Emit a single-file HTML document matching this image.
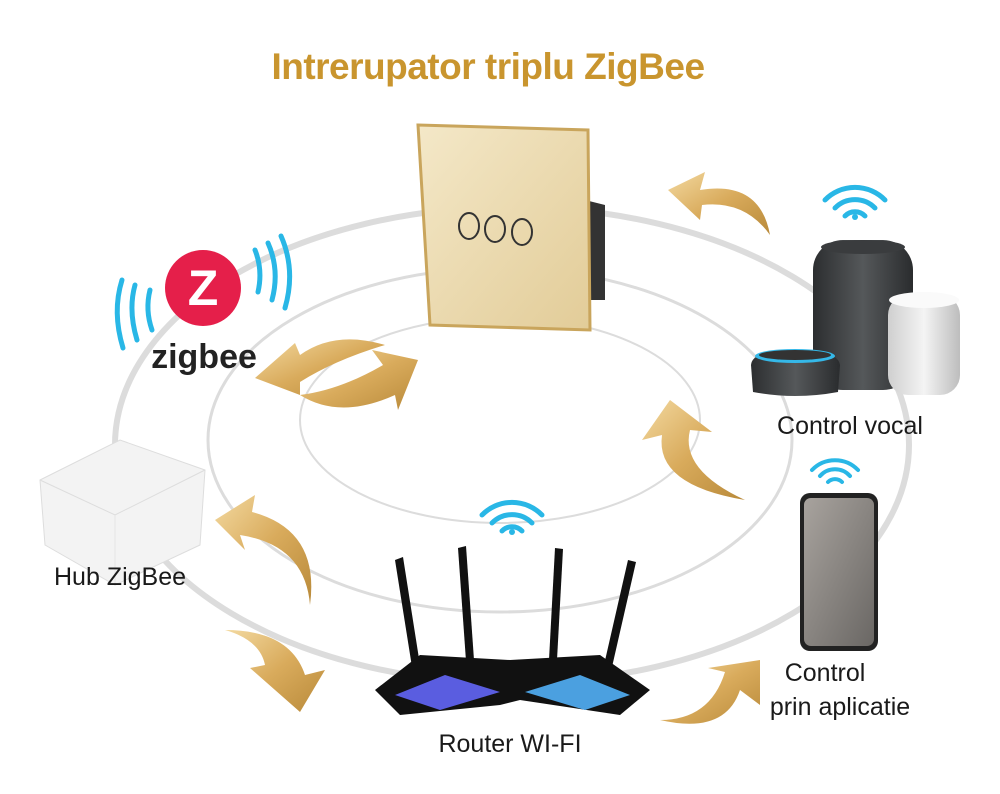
<!DOCTYPE html>
<html><head><meta charset="utf-8"><style>
html,body{margin:0;padding:0;background:#fff}
svg{display:block}
text{font-family:"Liberation Sans",sans-serif}
</style></head><body>
<svg width="1000" height="794" viewBox="0 0 1000 794" xmlns="http://www.w3.org/2000/svg">
<defs>
<linearGradient id="gold" x1="0" y1="0" x2="1" y2="1"><stop offset="0" stop-color="#f3d9a0"/><stop offset="0.5" stop-color="#d9ab5c"/><stop offset="1" stop-color="#b98a3a"/></linearGradient>
<linearGradient id="glass" x1="0" y1="0" x2="1" y2="1"><stop offset="0" stop-color="#f4e8c8"/><stop offset="1" stop-color="#e2cc98"/></linearGradient>
<linearGradient id="spk" x1="0" y1="0" x2="1" y2="0"><stop offset="0" stop-color="#2c2e30"/><stop offset="0.5" stop-color="#55585a"/><stop offset="1" stop-color="#2a2c2e"/></linearGradient>
<linearGradient id="gh" x1="0" y1="0" x2="1" y2="0"><stop offset="0" stop-color="#cfcfcf"/><stop offset="0.5" stop-color="#f4f4f4"/><stop offset="1" stop-color="#bdbdbd"/></linearGradient>
<linearGradient id="ph" x1="0" y1="0" x2="1" y2="1"><stop offset="0" stop-color="#a8a39e"/><stop offset="1" stop-color="#6a6764"/></linearGradient>
</defs>
<g fill="none" stroke="#dcdcdc">
<ellipse cx="512" cy="445" rx="397" ry="238" stroke-width="6"/>
<ellipse cx="500" cy="440" rx="292" ry="172" stroke-width="3"/>
<ellipse cx="500" cy="420" rx="200" ry="103" stroke-width="2"/>
</g>
<text x="488" y="79" text-anchor="middle" font-size="37" font-weight="bold" fill="#c9952e" letter-spacing="-0.5">Intrerupator triplu ZigBee</text>
<path d="M585 200 L605 205 L605 300 L585 300 Z" fill="#333"/>
<path d="M418 125 L588 130 L590 330 L430 325 Z" fill="url(#glass)" stroke="#c9a55c" stroke-width="3"/>
<g fill="none" stroke="#333" stroke-width="2">
<ellipse cx="469" cy="226" rx="10" ry="13"/><ellipse cx="495" cy="229" rx="10" ry="13"/><ellipse cx="522" cy="232" rx="10" ry="13"/></g>
<circle cx="203" cy="288" r="38" fill="#e51f4a"/>
<text x="203" y="305" text-anchor="middle" font-size="50" font-weight="bold" fill="#fff">Z</text>
<text x="204" y="368" text-anchor="middle" font-size="34" font-weight="bold" fill="#222">zigbee</text>
<g fill="none" stroke="#29b7e6" stroke-width="5" stroke-linecap="round">
<path d="M150 290 Q145 310 152 330"/><path d="M135 285 Q128 310 137 340"/><path d="M122 280 Q112 312 123 348"/>
<path d="M255 250 Q263 270 258 292"/><path d="M268 243 Q280 270 272 300"/><path d="M281 236 Q296 270 285 308"/></g>
<g fill="none" stroke="#29b7e6" stroke-width="5" stroke-linecap="round">
<g transform="translate(855,220)"><path d="M-10 -4 A14 14 0 0 1 10 -4"/><path d="M-20 -12 A28 28 0 0 1 20 -12"/><path d="M-30 -20 A42 42 0 0 1 30 -20"/></g>
<g transform="translate(512,535)"><path d="M-10 -4 A14 14 0 0 1 10 -4"/><path d="M-20 -12 A28 28 0 0 1 20 -12"/><path d="M-30 -20 A42 42 0 0 1 30 -20"/></g>
<g transform="translate(835,485)" stroke-width="4"><path d="M-7 -3 A10 10 0 0 1 7 -3"/><path d="M-15 -9 A20 20 0 0 1 15 -9"/><path d="M-23 -15 A32 32 0 0 1 23 -15"/></g>
</g>
<circle cx="855" cy="217" r="3" fill="#29b7e6"/><circle cx="512" cy="532" r="3" fill="#29b7e6"/>
<rect x="813" y="240" width="100" height="150" rx="30" fill="url(#spk)"/>
<ellipse cx="863" cy="247" rx="42" ry="7" fill="#3a3c3e"/>
<rect x="888" y="295" width="72" height="100" rx="20" fill="url(#gh)"/>
<ellipse cx="924" cy="300" rx="35" ry="8" fill="#fafafa"/>
<path d="M751 365 Q752 350 795 350 Q838 350 840 365 L838 392 Q795 400 753 392 Z" fill="url(#spk)"/>
<ellipse cx="795" cy="356" rx="40" ry="7" fill="#35b8e8"/><ellipse cx="795" cy="355" rx="36" ry="5" fill="#333"/>
<text x="850" y="434" text-anchor="middle" font-size="25" fill="#1a1a1a">Control vocal</text>
<rect x="800" y="493" width="78" height="158" rx="10" fill="#222"/>
<rect x="804" y="498" width="70" height="148" rx="7" fill="url(#ph)"/>
<text x="825" y="681" text-anchor="middle" font-size="25" fill="#1a1a1a">Control</text>
<text x="840" y="715" text-anchor="middle" font-size="25" fill="#1a1a1a">prin aplicatie</text>
<path d="M40 480 L120 440 L205 470 L200 545 L115 585 L45 545 Z" fill="#f3f3f3" stroke="#ddd"/>
<path d="M40 480 L115 515 L205 470" fill="none" stroke="#ddd"/>
<path d="M115 515 L115 585" stroke="#e5e5e5"/>
<text x="120" y="585" text-anchor="middle" font-size="25" fill="#1a1a1a">Hub ZigBee</text>
<g fill="#111">
<path d="M395 560 L403 557 L420 665 L412 667 Z"/><path d="M458 548 L466 546 L474 660 L466 661 Z"/>
<path d="M555 548 L563 549 L557 660 L549 660 Z"/><path d="M628 560 L636 562 L612 667 L604 665 Z"/>
<path d="M375 690 L420 655 L510 660 L600 655 L650 690 L620 715 L520 700 L500 705 L400 715 Z"/></g>
<path d="M395 695 L445 675 L500 692 L440 710 Z" fill="#5a5de0"/>
<path d="M630 695 L580 675 L525 692 L585 710 Z" fill="#4ba0e0"/>
<text x="510" y="752" text-anchor="middle" font-size="25" fill="#1a1a1a">Router WI-FI</text>
<g fill="url(#gold)">
<path d="M770 235 Q760 180 700 190 L705 172 L668 190 L700 220 L702 205 Q745 200 770 235 Z"/>
<path d="M745 500 Q680 470 690 430 L712 432 L670 400 L642 440 L662 435 Q655 485 745 500 Z"/>
<path d="M660 720 Q710 720 725 672 L708 668 L760 660 L760 705 L740 690 Q725 735 660 720 Z"/>
<path d="M310 605 Q305 545 240 535 L245 550 L215 520 L255 495 L252 512 Q320 530 310 605 Z"/>
<path d="M225 630 Q260 640 265 665 L250 668 L300 712 L325 670 L305 675 Q290 630 225 630 Z"/>
<path d="M385 345 Q335 330 300 355 L295 343 L255 378 L300 395 L300 382 Q335 360 385 345 Z"/>
<path d="M300 395 Q340 420 395 395 L398 410 L418 360 L372 350 L383 365 Q340 390 300 395 Z"/>
</g>
</svg>
</body></html>
